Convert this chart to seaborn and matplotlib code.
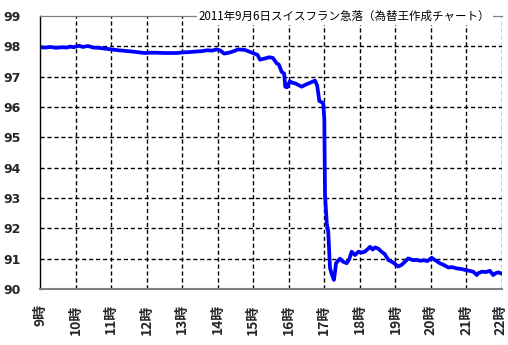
import matplotlib
matplotlib.use("Agg")
import matplotlib.pyplot as plt
import matplotlib.transforms as mtransforms
import seaborn as sns
import pandas as pd

# time in hours (9 = 9時), rate values
hours = [9.0, 9.15, 9.3, 9.45, 9.6, 9.75, 9.85, 9.95, 10.1, 10.2, 10.35, 10.5,
         10.65, 10.8, 11.0, 11.2, 11.4, 11.66, 11.8, 11.95, 12.1, 12.26, 12.5,
         12.85, 13.0, 13.2, 13.4, 13.55, 13.7, 13.85, 13.97, 14.08, 14.18, 14.35,
         14.5, 14.57, 14.77, 14.9, 15.05, 15.12, 15.19, 15.33, 15.45, 15.55,
         15.66, 15.72, 15.8, 15.87, 15.9, 15.95, 16.03, 16.1, 16.18, 16.28,
         16.36, 16.5, 16.6, 16.74, 16.8, 16.86, 16.92, 16.97, 17.0, 17.02,
         17.07, 17.11, 17.16, 17.2, 17.27, 17.3, 17.33, 17.44, 17.53, 17.63,
         17.7, 17.77, 17.86, 17.96, 18.05, 18.14, 18.29, 18.36, 18.43, 18.52,
         18.61, 18.7, 18.8, 18.94, 19.08, 19.18, 19.27, 19.36, 19.5, 19.6,
         19.7, 19.8, 19.9, 20.02, 20.12, 20.25, 20.35, 20.49, 20.6, 20.72,
         20.85, 20.96, 21.08, 21.19, 21.29, 21.33, 21.43, 21.55, 21.66, 21.75,
         21.82, 21.9, 22.0]
rates = [97.97, 97.96, 97.98, 97.95, 97.97, 97.96, 97.99, 97.97, 98.02, 97.98,
         98.01, 97.96, 97.95, 97.93, 97.9, 97.87, 97.85, 97.82, 97.8, 97.78,
         97.79, 97.79, 97.78, 97.78, 97.8, 97.81, 97.83, 97.84, 97.87, 97.86,
         97.9, 97.86, 97.76, 97.8, 97.86, 97.9, 97.88, 97.82, 97.75, 97.72,
         97.56, 97.6, 97.64, 97.62, 97.44, 97.4, 97.16, 97.1, 96.67, 96.65,
         96.85, 96.8, 96.78, 96.72, 96.67, 96.75, 96.8, 96.87, 96.7, 96.2,
         96.16, 96.12, 95.6, 93.1, 92.15, 91.9, 90.7, 90.52, 90.3, 90.55,
         90.85, 91.0, 90.9, 90.85, 90.98, 91.23, 91.12, 91.23, 91.2, 91.23,
         91.39, 91.3, 91.37, 91.33, 91.23, 91.15, 90.96, 90.87, 90.74, 90.8,
         90.9, 91.01, 90.95, 90.96, 90.93, 90.95, 90.92, 91.03, 90.95, 90.85,
         90.8, 90.71, 90.72, 90.68, 90.66, 90.63, 90.6, 90.57, 90.46, 90.52,
         90.57, 90.56, 90.6, 90.46, 90.52, 90.55, 90.5]
hour_ticks = list(range(9, 23))
hour_labels = [f"{h}時" for h in hour_ticks]
rate_ticks = list(range(90, 100))
title_text = "2011年9月6日スイスフラン急落（為替王作成チャート）"

df = pd.DataFrame({"hour": hours, "rate": rates})

sns.set_style("white")
plt.rcParams["font.family"] = ["Noto Sans CJK JP", "DejaVu Sans"]

fig = plt.figure(figsize=(5.08, 3.45), dpi=100)
ax = fig.add_axes([40 / 508, 1 - 289 / 345, 462 / 508, 273 / 345])

# dashed black grid lines at every tick
for h in hour_ticks[1:]:
    ax.plot([h, h], [90, 99], color="black", linewidth=1.0,
            linestyle="--", dashes=(3, 2), zorder=2)
for r in rate_ticks[1:-1]:
    ax.plot([9, 22], [r, r], color="black", linewidth=1.0,
            linestyle="--", dashes=(3, 2), zorder=2)

sns.lineplot(data=df, x="hour", y="rate", ax=ax, color="#0000ff",
             lw=2.7, zorder=3)

ax.set_xlim(9, 22)
ax.set_ylim(90, 99)
ax.set_xticks(hour_ticks)
ax.set_xticklabels(hour_labels, rotation=90, fontsize=10, fontweight="bold",
                   family=["Noto Sans CJK JP"])
ax.set_yticks(rate_ticks)
ax.set_yticklabels([str(r) for r in rate_ticks], fontsize=9,
                   fontweight="bold", family=["DejaVu Sans"])
ax.tick_params(axis="both", length=0)
ax.tick_params(axis="y", pad=14)
ax.tick_params(axis="x", pad=11)
ax.set_xlabel("")
ax.set_ylabel("")

# nudge the last hour label so it stays inside the figure
last = ax.get_xticklabels()[-1]
last.set_transform(last.get_transform() +
                   mtransforms.ScaledTranslation(-2 / 100, 0, fig.dpi_scale_trans))

ax.spines["left"].set_color("black")
ax.spines["left"].set_linewidth(1.0)
ax.spines["left"].set_zorder(4)
ax.spines["top"].set_color("#808080")
ax.spines["top"].set_linewidth(0.9)
ax.spines["top"].set_zorder(4)
ax.spines["bottom"].set_color("#808080")
ax.spines["bottom"].set_linewidth(1.5)
ax.spines["bottom"].set_zorder(4)
ax.spines["right"].set_visible(False)

ax.text(0.975, 1.0, title_text, transform=ax.transAxes, ha="right",
        va="center", fontsize=8.3, color="black",
        bbox=dict(facecolor="white", edgecolor="none", pad=1.5), zorder=5)

fig.savefig("out.png", dpi=100)
